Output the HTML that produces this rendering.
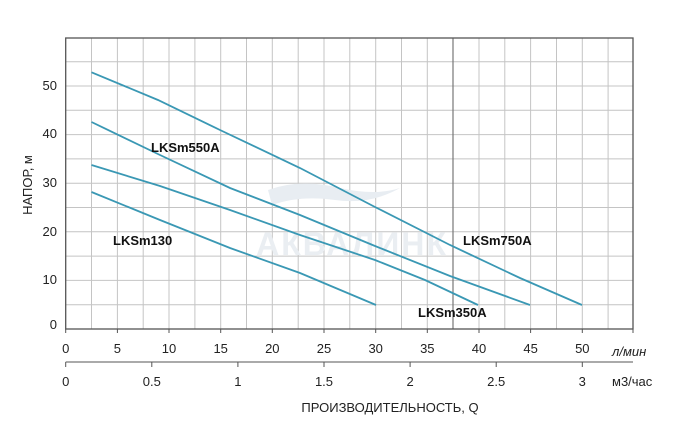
<!DOCTYPE html>
<html><head><meta charset="utf-8"><style>
body{margin:0;background:#fff}
svg{display:block;font-family:"Liberation Sans",Arial,sans-serif}
</style></head><body>
<svg width="700" height="436" viewBox="0 0 700 436">
<g stroke="#c4c4c4" stroke-width="1" fill="none">
<line x1="91.5" y1="38" x2="91.5" y2="329"/><line x1="117.4" y1="38" x2="117.4" y2="329"/><line x1="143.2" y1="38" x2="143.2" y2="329"/><line x1="169" y1="38" x2="169" y2="329"/><line x1="194.9" y1="38" x2="194.9" y2="329"/><line x1="220.7" y1="38" x2="220.7" y2="329"/><line x1="246.5" y1="38" x2="246.5" y2="329"/><line x1="272.3" y1="38" x2="272.3" y2="329"/><line x1="298.2" y1="38" x2="298.2" y2="329"/><line x1="324" y1="38" x2="324" y2="329"/><line x1="349.8" y1="38" x2="349.8" y2="329"/><line x1="375.7" y1="38" x2="375.7" y2="329"/><line x1="401.5" y1="38" x2="401.5" y2="329"/><line x1="427.3" y1="38" x2="427.3" y2="329"/><line x1="479" y1="38" x2="479" y2="329"/><line x1="504.8" y1="38" x2="504.8" y2="329"/><line x1="530.6" y1="38" x2="530.6" y2="329"/><line x1="556.5" y1="38" x2="556.5" y2="329"/><line x1="582.3" y1="38" x2="582.3" y2="329"/><line x1="608.1" y1="38" x2="608.1" y2="329"/>
<line x1="65.7" y1="304.7" x2="633" y2="304.7"/><line x1="65.7" y1="280.4" x2="633" y2="280.4"/><line x1="65.7" y1="256.1" x2="633" y2="256.1"/><line x1="65.7" y1="231.8" x2="633" y2="231.8"/><line x1="65.7" y1="207.5" x2="633" y2="207.5"/><line x1="65.7" y1="183.2" x2="633" y2="183.2"/><line x1="65.7" y1="158.9" x2="633" y2="158.9"/><line x1="65.7" y1="134.6" x2="633" y2="134.6"/><line x1="65.7" y1="110.3" x2="633" y2="110.3"/><line x1="65.7" y1="86" x2="633" y2="86"/><line x1="65.7" y1="61.7" x2="633" y2="61.7"/>
</g>
<line x1="453" y1="38" x2="453" y2="329" stroke="#777" stroke-width="1.2"/>
<rect x="65.7" y="38" width="567.3" height="291" fill="none" stroke="#555" stroke-width="1.3"/>
<path d="M268 190 Q300 178 340 188 Q375 196 400 188 Q370 205 335 200 Q300 195 272 205 Z" fill="#e8edf2"/>
<text x="352" y="255" font-size="32" font-weight="bold" fill="#eaeef2" text-anchor="middle" letter-spacing="2">АКВАЛИНК</text>
<g stroke="#3a98b4" stroke-width="1.8" fill="none">
<polyline points="91.5,72.3 158,100 220,130 300,168 375,207 450,245 520,278 582,305"/>
<polyline points="91.5,122 160,155 230,188 300,215 375,246 450,276 530,305"/>
<polyline points="91.5,165 160,186 230,210 300,235 375,260 425,280 478,305"/>
<polyline points="91.5,192 160,220 230,248 300,273 376,305"/>
</g>
<g font-size="13" font-weight="bold" fill="#111">
<text x="151" y="152">LKSm550A</text>
<text x="113" y="245">LKSm130</text>
<text x="463" y="245">LKSm750A</text>
<text x="418" y="317">LKSm350A</text>
</g>
<g font-size="13" fill="#222" text-anchor="end">
<text x="57" y="329">0</text><text x="57" y="284">10</text><text x="57" y="236">20</text><text x="57" y="187">30</text><text x="57" y="138">40</text><text x="57" y="90">50</text>
</g>
<text transform="translate(32,185) rotate(-90)" font-size="13" fill="#222" text-anchor="middle">НАПОР, м</text>
<g stroke="#555">
<line x1="65.7" y1="329" x2="65.7" y2="333"/><line x1="117.4" y1="329" x2="117.4" y2="333"/><line x1="169" y1="329" x2="169" y2="333"/><line x1="220.7" y1="329" x2="220.7" y2="333"/><line x1="272.3" y1="329" x2="272.3" y2="333"/><line x1="324" y1="329" x2="324" y2="333"/><line x1="375.7" y1="329" x2="375.7" y2="333"/><line x1="427.3" y1="329" x2="427.3" y2="333"/><line x1="479" y1="329" x2="479" y2="333"/><line x1="530.6" y1="329" x2="530.6" y2="333"/><line x1="582.3" y1="329" x2="582.3" y2="333"/><line x1="633" y1="329" x2="633" y2="333"/>
<line x1="65.7" y1="362" x2="633" y2="362"/>
<line x1="65.7" y1="362" x2="65.7" y2="367"/><line x1="151.8" y1="362" x2="151.8" y2="367"/><line x1="237.9" y1="362" x2="237.9" y2="367"/><line x1="324" y1="362" x2="324" y2="367"/><line x1="410.1" y1="362" x2="410.1" y2="367"/><line x1="496.2" y1="362" x2="496.2" y2="367"/><line x1="582.3" y1="362" x2="582.3" y2="367"/>
</g>
<g font-size="13" fill="#222" text-anchor="middle">
<text x="65.7" y="353">0</text><text x="117.4" y="353">5</text><text x="169" y="353">10</text><text x="220.7" y="353">15</text><text x="272.3" y="353">20</text><text x="324" y="353">25</text><text x="375.7" y="353">30</text><text x="427.3" y="353">35</text><text x="479" y="353">40</text><text x="530.6" y="353">45</text><text x="582.3" y="353">50</text>
<text x="65.7" y="386">0</text><text x="151.8" y="386">0.5</text><text x="237.9" y="386">1</text><text x="324" y="386">1.5</text><text x="410.1" y="386">2</text><text x="496.2" y="386">2.5</text><text x="582.3" y="386">3</text>
</g>
<text x="612" y="356" font-size="13" fill="#222" font-style="italic">л/мин</text>
<text x="612" y="386" font-size="13" fill="#222">м3/час</text>
<text x="390" y="412" font-size="13" fill="#222" text-anchor="middle">ПРОИЗВОДИТЕЛЬНОСТЬ, Q</text>
</svg>
</body></html>
